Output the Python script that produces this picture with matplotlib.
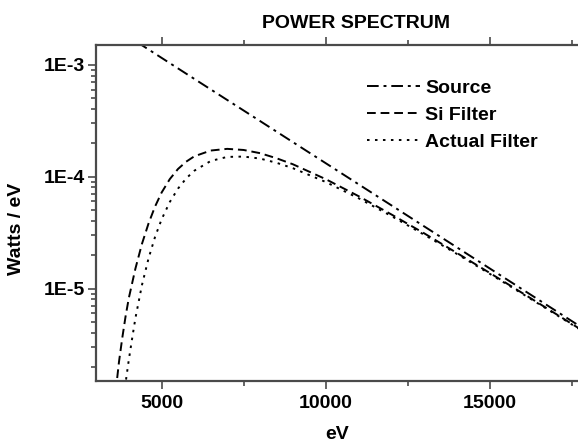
import numpy as np
import matplotlib
matplotlib.use('Agg')
import matplotlib.pyplot as plt
from matplotlib.ticker import FixedLocator, FuncFormatter, LogLocator, NullFormatter

plt.rcParams['font.family'] = ['Liberation Sans', 'DejaVu Sans']

# energies (eV) and power (W/eV)
source_ev = [3000, 4000, 5000, 6000, 7000, 8000, 9000, 10000, 11000, 12000,
             13000, 14000, 15000, 16000, 17000, 18000]
source_w = [2.74e-3, 1.776e-3, 1.151e-3, 7.46e-4, 4.84e-4, 3.14e-4, 2.035e-4, 1.32e-4,
            8.56e-5, 5.55e-5, 3.60e-5, 2.335e-5, 1.514e-5, 9.82e-6, 6.37e-6, 4.13e-6]

si_ev = [3600, 3700, 3800, 3900, 4000, 4200, 4400, 4600, 4800, 5000, 5250, 5500, 5750,
         6000, 6500, 7000, 7500, 8000, 8500, 9000, 10000, 11000, 12000, 13000, 14000,
         15000, 16000, 17000, 18000]
si_w = [1.2e-6, 2.2e-6, 3.6e-6, 5.6e-6, 8.2e-6, 1.5e-5, 2.5e-5, 3.8e-5, 5.4e-5, 7.2e-5,
        9.5e-5, 1.17e-4, 1.36e-4, 1.52e-4, 1.71e-4, 1.77e-4, 1.73e-4, 1.62e-4, 1.46e-4,
        1.29e-4, 9.5e-5, 6.7e-5, 4.6e-5, 3.12e-5, 2.08e-5, 1.38e-5, 9.1e-6, 5.98e-6, 3.92e-6]

actual_ev = [3800, 3900, 4000, 4100, 4200, 4400, 4600, 4800, 5000, 5250, 5500, 5750,
             6000, 6500, 7000, 7500, 8000, 8500, 9000, 10000, 11000, 12000, 13000, 14000,
             15000, 16000, 17000, 18000]
actual_w = [8e-7, 1.42e-6, 2.3e-6, 3.55e-6, 5.4e-6, 1.07e-5, 1.85e-5, 2.89e-5, 4.15e-5,
            5.93e-5, 7.81e-5, 9.64e-5, 1.13e-4, 1.38e-4, 1.50e-4, 1.51e-4, 1.45e-4, 1.33e-4,
            1.19e-4, 8.96e-5, 6.42e-5, 4.45e-5, 3.03e-5, 2.04e-5, 1.356e-5, 8.97e-6, 5.91e-6,
            3.88e-6]

x_ticks = [5000, 10000, 15000]
y_ticks = [1e-5, 1e-4, 1e-3]

fig = plt.figure(figsize=(5.78, 4.44), dpi=100)
ax = fig.add_axes([96/578, 1 - 380.7/444, (588 - 96)/578, (380.7 - 45)/444])

ax.plot(source_ev, source_w, color='black', lw=1.4, dashes=(6, 2.5, 1.5, 2.5), label='Source')
ax.plot(si_ev, si_w, color='black', lw=1.4, dashes=(4.5, 2.5), label='Si Filter')
ax.plot(actual_ev, actual_w, color='black', lw=1.4, dashes=(1.3, 2.8), label='Actual Filter')

ax.set_yscale('log')
ax.set_xlim(3000, 18000)
ax.set_ylim(1.5e-6, 1.5e-3)

ax.xaxis.set_major_locator(FixedLocator(x_ticks))
ax.xaxis.set_minor_locator(FixedLocator([7500, 12500, 17500]))
ax.yaxis.set_major_locator(FixedLocator(y_ticks))
ax.yaxis.set_minor_locator(LogLocator(base=10, subs=np.arange(2, 10)))
ax.yaxis.set_minor_formatter(NullFormatter())
ax.yaxis.set_major_formatter(FuncFormatter(lambda v, p: f"1E{int(round(np.log10(v)))}"))

for s in ['left', 'bottom', 'top']:
    ax.spines[s].set_linewidth(1.6)
    ax.spines[s].set_color('#4a4a4a')
ax.spines['right'].set_visible(False)

ax.tick_params(which='both', direction='out', color='#4a4a4a', width=1.2,
               top=True, right=False, labeltop=False)
ax.tick_params(which='major', length=6)
ax.tick_params(which='minor', length=3.5)
ax.tick_params(axis='x', which='major', pad=4)
ax.tick_params(axis='y', which='major', pad=2)
for lab in ax.get_xticklabels() + ax.get_yticklabels():
    lab.set_fontsize(14)
    lab.set_fontweight('bold')

fig.text(356/578, 1 - 24/444, 'POWER SPECTRUM', ha='center', va='center',
         fontsize=14, fontweight='bold')
fig.text(17/578, 1 - 229/444, 'Watts / eV', rotation=90, ha='center', va='center',
         fontsize=14, fontweight='bold')
fig.text(337/578, 1 - 434/444, 'eV', ha='center', va='center', fontsize=14, fontweight='bold')

leg = ax.legend(loc='upper left', bbox_to_anchor=(367/578, 1 - 79/444),
                bbox_transform=fig.transFigure, frameon=False, borderpad=0,
                borderaxespad=0, handlelength=2.75, handletextpad=0.25, labelspacing=0.5,
                prop={'size': 14, 'weight': 'bold'})

fig.savefig('out.png', dpi=100)
